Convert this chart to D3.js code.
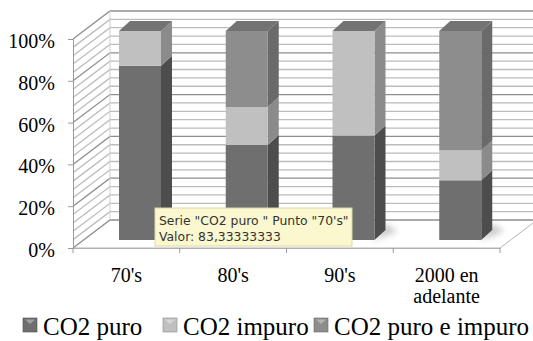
<!DOCTYPE html>
<html>
<head>
<meta charset="utf-8">
<script src="https://cdn.jsdelivr.net/npm/d3@7"></script>
<style>
  body { margin: 0; background: #fff; }
  svg { display: block; }
</style>
</head>
<body>
<div id="chart"></div>
<script>
var categories = ["70's", "80's", "90's", "2000 en adelante"];
var seriesNames = ["CO2 puro", "CO2 impuro", "CO2 puro e impuro"];
var puro = [83.33, 45.45, 50, 28.57];
var impuro = [16.67, 18.18, 50, 14.29];
var mixto = [0, 36.36, 0, 57.14];
var yTicks = [0, 20, 40, 60, 80, 100];
var tipLines = ["Serie \"CO2 puro \" Punto \"70's\"", "Valor: 83,33333333"];

var width = 533, height = 341;
var front = {left: 73, right: 500, bottom: 248, top: 39};
var depth = {dx: 37, dy: -28};      // wall depth
var barShift = {dx: 10, dy: -8};    // bar front plane
var barDepth = {dx: 11, dy: -10};
var barOffset = 36, barWidth = 42;
var serifFont = "Liberation Serif";

var colors = [
  {front: "#6f6f6f", side: "#4d4d4d"},
  {front: "#c0c0c0", side: "#8b8b8b"},
  {front: "#8d8d8d", side: "#6a6a6a"}
];
var topColor = "#737373";

var svg = d3.select("#chart").append("svg")
    .attr("width", width)
    .attr("height", height);

var defs = svg.append("defs");
defs.append("filter").attr("id", "blur")
    .attr("x", "-50%").attr("y", "-50%").attr("width", "200%").attr("height", "200%")
  .append("feGaussianBlur").attr("stdDeviation", 3);

var x = d3.scaleBand()
    .domain(categories)
    .range([front.left, front.right]);

var y = d3.scaleLinear()
    .domain([0, 100])
    .range([front.bottom, front.top]);

// walls
var walls = svg.append("g");
walls.append("rect")
    .attr("x", front.left + depth.dx)
    .attr("y", y(100) + depth.dy)
    .attr("width", front.right - front.left)
    .attr("height", y(0) - y(100))
    .attr("fill", "#fff");

var minor = d3.range(0, 101, 4).filter(function (v) { return v % 20 != 0; });

function gridLine(v, color, w) {
  var yy = y(v);
  walls.append("path")
      .attr("d", "M" + front.left + "," + yy +
                 "L" + (front.left + depth.dx) + "," + (yy + depth.dy) +
                 "L" + (front.right + depth.dx) + "," + (yy + depth.dy))
      .attr("fill", "none")
      .attr("stroke", color)
      .attr("stroke-width", w);
}
minor.forEach(function (v) { gridLine(v, "#bcbcbc", 1.3); });
yTicks.forEach(function (v) { gridLine(v, "#8e8e8e", 1.3); });

walls.append("line")
    .attr("x1", front.left + depth.dx).attr("x2", front.left + depth.dx)
    .attr("y1", y(100) + depth.dy).attr("y2", y(0) + depth.dy)
    .attr("stroke", "#cfcfcf");

// floor
walls.append("path")
    .attr("d", "M" + front.left + "," + y(0) +
               "L" + front.right + "," + y(0) +
               "L" + (front.right + depth.dx) + "," + (y(0) + depth.dy))
    .attr("fill", "none")
    .attr("stroke", "#b5b5b5");

// bar shadows
var shadows = svg.append("g").attr("filter", "url(#blur)");
categories.forEach(function (c) {
  var xl = x(c) + barOffset + barShift.dx;
  var xr = xl + barWidth;
  var yb = y(0) + barShift.dy;
  shadows.append("path")
      .attr("d", "M" + (xr - 2) + "," + (yb + 1) +
                 "L" + (xr + barDepth.dx + 12) + "," + (yb + barDepth.dy + 1) +
                 "L" + (xr + barDepth.dx) + "," + (yb + barDepth.dy - 6) +
                 "Z")
      .attr("fill", "#000")
      .attr("opacity", 0.22);
});

// stacked bars
var bars = svg.append("g");
categories.forEach(function (c, i) {
  var vals = [puro[i], impuro[i], mixto[i]];
  var xl = x(c) + barOffset + barShift.dx;
  var xr = xl + barWidth;
  var acc = 0;
  vals.forEach(function (v, s) {
    if (v <= 0) return;
    var yb = y(acc) + barShift.dy;
    var yt = y(acc + v) + barShift.dy;
    acc += v;
    bars.append("path")
        .attr("d", "M" + xr + "," + yt +
                   "L" + (xr + barDepth.dx) + "," + (yt + barDepth.dy) +
                   "L" + (xr + barDepth.dx) + "," + (yb + barDepth.dy) +
                   "L" + xr + "," + yb + "Z")
        .attr("fill", colors[s].side);
    bars.append("rect")
        .attr("x", xl)
        .attr("y", yt)
        .attr("width", barWidth)
        .attr("height", yb - yt)
        .attr("fill", colors[s].front);
  });
  var ytop = y(acc) + barShift.dy;
  bars.append("path")
      .attr("d", "M" + xl + "," + ytop +
                 "L" + (xl + barDepth.dx) + "," + (ytop + barDepth.dy) +
                 "L" + (xr + barDepth.dx) + "," + (ytop + barDepth.dy) +
                 "L" + xr + "," + ytop + "Z")
      .attr("fill", topColor);
});

// Y axis
var yAxis = svg.append("g")
    .attr("transform", "translate(" + front.left + ",0)")
    .call(d3.axisLeft(y)
        .tickValues(yTicks)
        .tickSize(5)
        .tickPadding(13)
        .tickFormat(function (d) { return d + "%"; }));
yAxis.selectAll("path, line").attr("stroke", "#9a9a9a");
yAxis.selectAll("text")
    .attr("fill", "#000")
    .attr("dy", "0.42em")
    .style("font-family", serifFont)
    .style("font-size", "20px");

// X axis
var xAxis = svg.append("g")
    .attr("transform", "translate(0," + front.bottom + ")")
    .call(d3.axisBottom(x).tickSize(0).tickPadding(0));
xAxis.select(".domain").attr("stroke", "#b0b0b0");
xAxis.selectAll(".tick text")
    .attr("fill", "#000")
    .style("font-family", serifFont)
    .style("font-size", "20px")
    .each(function (d) {
      var t = d3.select(this);
      var words = d.split(" ");
      var lines = words.length > 2 ? [words.slice(0, 2).join(" "), words.slice(2).join(" ")] : [d];
      t.text(null).attr("y", 0).attr("dy", null);
      lines.forEach(function (ln, k) {
        t.append("tspan").attr("x", 0).attr("y", 34 + k * 21).text(ln);
      });
    });

var bounds = categories.map(function (c) { return x(c); }).concat([front.right]);
xAxis.selectAll(".bound")
    .data(bounds)
    .enter().append("line")
    .attr("class", "bound")
    .attr("x1", function (d) { return d; })
    .attr("x2", function (d) { return d; })
    .attr("y1", 0).attr("y2", 5)
    .attr("stroke", "#9a9a9a");

// tooltip
var tip = svg.append("g").attr("transform", "translate(155,208)");
tip.append("rect")
    .attr("width", 197).attr("height", 38)
    .attr("fill", "#fbf8cf")
    .attr("stroke", "#dcd8a8");
tip.selectAll("text")
    .data(tipLines)
    .enter().append("text")
    .attr("x", 4)
    .attr("y", function (d, k) { return 17 + k * 16; })
    .attr("fill", "#333")
    .style("font-family", "DejaVu Sans")
    .style("font-size", "12.4px")
    .text(function (d) { return d; });

// legend
var legendX = [23, 163, 314];
var legend = svg.append("g");
seriesNames.forEach(function (name, s) {
  var g = legend.append("g").attr("transform", "translate(" + legendX[s] + ",318)");
  g.append("rect")
      .attr("width", 14).attr("height", 14)
      .attr("fill", colors[s].front)
      .attr("stroke", colors[s].side)
      .attr("stroke-width", 0.6);
  g.append("path")
      .attr("d", "M2,1.5L12,1.5L7,6Z")
      .attr("fill", "#fff")
      .attr("opacity", 0.35);
  g.append("text")
      .attr("x", 20)
      .attr("y", 17)
      .attr("fill", "#000")
      .style("font-family", serifFont)
      .style("font-size", "25px")
      .text(name);
});
</script>
</body>
</html>
